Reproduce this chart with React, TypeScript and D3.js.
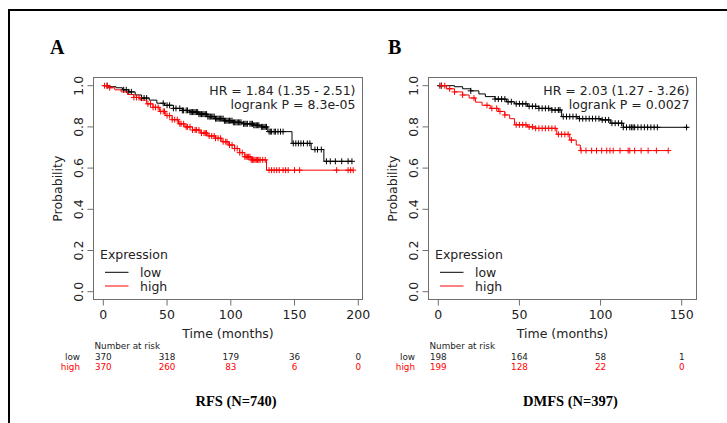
import React from "react";
import * as d3 from "d3";

// ---------- data ----------
const yTicks = [0, 0.2, 0.4, 0.6, 0.8, 1.0];
const rfsXTicks = [0, 50, 100, 150, 200];
const dmfsXTicks = [0, 50, 100, 150];

// Kaplan-Meier steps: [time (months), survival after that time]
const rfsLowSteps: [number, number][] = [
  [0, 1], [5, 0.995], [10, 0.99], [15, 0.98], [20, 0.97], [25, 0.955], [30, 0.94], [36, 0.93],
  [42, 0.915], [48, 0.905], [55, 0.89], [62, 0.88], [68, 0.872], [75, 0.862], [82, 0.85],
  [88, 0.84], [95, 0.83], [102, 0.822], [110, 0.815], [118, 0.808], [124, 0.8], [129, 0.777],
  [148, 0.72], [163, 0.69], [173, 0.633],
];
const rfsLowEnd = 195;
const rfsLowCensor = [3, 16, 18, 20, 22, 30, 32, 34, 47, 50, 52, 55, 57, 60, 62, 63, 65, 66, 68, 69, 70, 71,
  72, 73, 74, 75, 76, 77, 78, 79, 80, 81, 82, 83, 84, 85, 86, 87, 88, 89, 90, 91, 92, 93, 94, 95, 96, 97, 98,
  99, 100, 101, 102, 103, 104, 105, 106, 107, 108, 110, 111, 112, 113, 115, 116, 117, 118, 119, 120, 121, 122,
  124, 125, 126, 127, 128, 130, 131, 132, 134, 135, 137, 139, 141, 149, 151, 153, 155, 157, 160, 162, 166, 168,
  171, 175, 178, 182, 187, 192, 195];

const rfsHighSteps: [number, number][] = [
  [0, 1], [4, 0.99], [9, 0.98], [14, 0.97], [19, 0.957], [24, 0.943], [29, 0.93], [34, 0.912],
  [39, 0.895], [44, 0.875], [49, 0.855], [54, 0.835], [59, 0.815], [64, 0.8], [70, 0.785],
  [76, 0.77], [82, 0.756], [88, 0.745], [93, 0.728], [98, 0.712], [103, 0.695], [107, 0.675],
  [111, 0.655], [116, 0.64], [128, 0.59],
];
const rfsHighEnd = 196;
const rfsHighCensor = [1, 3, 5, 24, 26, 28, 35, 37, 39, 41, 43, 45, 47, 48, 50, 52, 54, 56, 58, 60, 61, 63,
  65, 66, 68, 70, 72, 73, 75, 77, 79, 80, 81, 83, 85, 87, 88, 90, 92, 94, 96, 97, 99, 101, 103, 105, 107, 109,
  111, 112, 113, 114, 115, 116, 117, 118, 119, 120, 121, 122, 123, 125, 127, 130, 132, 134, 136, 138, 141, 143,
  145, 150, 154, 183, 192, 194, 196];

const dmfsLowSteps: [number, number][] = [
  [0, 1], [10, 0.995], [15, 0.985], [20, 0.975], [25, 0.96], [29, 0.947], [35, 0.935], [42, 0.922],
  [47, 0.912], [55, 0.9], [62, 0.89], [70, 0.882], [76, 0.85], [86, 0.84], [100, 0.834],
  [106, 0.818], [114, 0.798],
];
const dmfsLowEnd = 154;
const dmfsLowCensor = [1, 2, 20, 35, 37, 39, 41, 43, 45, 48, 50, 52, 54, 56, 58, 60, 62, 64, 66, 68, 70, 72,
  74, 75, 77, 79, 81, 83, 85, 87, 89, 91, 93, 95, 97, 99, 101, 103, 105, 107, 109, 111, 113, 114, 116, 118,
  119, 120, 121, 123, 125, 127, 129, 131, 133, 135, 153];

const dmfsHighSteps: [number, number][] = [
  [0, 1], [5, 0.985], [10, 0.97], [15, 0.955], [19, 0.94], [23, 0.92], [27, 0.905], [32, 0.89],
  [37, 0.875], [41, 0.858], [44, 0.84], [47, 0.81], [55, 0.8], [60, 0.793], [73, 0.764],
  [81, 0.736], [85, 0.712], [87.5, 0.685],
];
const dmfsHighEnd = 142;
const dmfsHighCensor = [2, 4, 7, 10, 15, 22, 30, 33, 36, 38, 41, 48, 50, 52, 54, 56, 58, 60, 62, 64, 66, 68,
  70, 72, 74, 76, 78, 80, 82, 88, 91, 94.5, 97.5, 100.7, 103.8, 105.8, 107.8, 112, 117, 118, 121, 125, 129.3,
  134.4, 141.7];

const rfsRiskLow = [370, 318, 179, 36, 0];
const rfsRiskHigh = [370, 260, 83, 6, 0];
const dmfsRiskLow = [198, 164, 58, 1];
const dmfsRiskHigh = [199, 128, 22, 0];

const rfsStats = ["HR = 1.84 (1.35 - 2.51)", "logrank P = 8.3e-05"];
const dmfsStats = ["HR = 2.03 (1.27 - 3.26)", "logrank P = 0.0027"];

// ---------- drawing ----------
const FONT = "'DejaVu Sans', Verdana, sans-serif";
const SERIF = "'Liberation Serif', 'Times New Roman', serif";
const RED = "#ff0000";

type Steps = [number, number][];

interface PanelProps {
  letter: string;
  letterX: number;
  caption: string;
  xTicks: number[];
  xMax: number;
  xRange: [number, number];
  boxX: [number, number];
  lowSteps: Steps; lowEnd: number; lowCensor: number[];
  highSteps: Steps; highEnd: number; highCensor: number[];
  riskLow: number[]; riskHigh: number[];
  stats: string[];
}

const yScale = d3.scaleLinear().domain([0, 1]).range([291.7, 85.7]);
const boxY: [number, number] = [77.5, 299.5];

function survAt(steps: Steps, t: number) {
  const i = d3.bisector((d: [number, number]) => d[0]).right(steps, t) - 1;
  return steps[Math.max(0, i)][1];
}

function Curve({ steps, end, censor, color, x }: { steps: Steps; end: number; censor: number[]; color: string; x: d3.ScaleLinear<number, number> }) {
  const pts: [number, number][] = [...steps, [end, steps[steps.length - 1][1]]];
  const line = d3.line<[number, number]>().x(d => x(d[0])).y(d => yScale(d[1])).curve(d3.curveStepAfter);
  const s = 3;
  return (
    <g>
      <path d={line(pts) || ""} fill="none" stroke={color} strokeWidth={1} />
      {censor.map((t, i) => {
        const cx = x(t), cy = yScale(survAt(steps, t));
        return <path key={i} d={`M${cx - s},${cy}H${cx + s}M${cx},${cy - s}V${cy + s}`} stroke={color} strokeWidth={1} />;
      })}
    </g>
  );
}

function Panel(p: PanelProps) {
  const x = d3.scaleLinear().domain([0, p.xMax]).range(p.xRange);
  const [bl, br] = p.boxX;
  const cx = (bl + br) / 2;
  return (
    <g>
      <text x={p.letterX} y={54} fontFamily={SERIF} fontWeight="bold" fontSize={20}>{p.letter}</text>
      <rect x={bl} y={boxY[0]} width={br - bl} height={boxY[1] - boxY[0]} fill="none" stroke="#6e6e6e" strokeWidth={1} />
      {yTicks.map(t => (
        <g key={t}>
          <line x1={bl - 6} x2={bl} y1={yScale(t)} y2={yScale(t)} stroke="#6e6e6e" />
          <text transform={`translate(${bl - 10.5},${yScale(t)}) rotate(-90)`} textAnchor="middle" fontFamily={FONT} fontSize={12.5} fill="#222">{t.toFixed(1)}</text>
        </g>
      ))}
      <text transform={`translate(${bl - 32},${yScale(0.5)}) rotate(-90)`} textAnchor="middle" fontFamily={FONT} fontSize={12.5} fill="#222">Probability</text>
      {p.xTicks.map(t => (
        <g key={t}>
          <line x1={x(t)} x2={x(t)} y1={boxY[1]} y2={boxY[1] + 6} stroke="#6e6e6e" />
          <text x={x(t)} y={318.5} textAnchor="middle" fontFamily={FONT} fontSize={12.5} fill="#222">{t}</text>
        </g>
      ))}
      <text x={cx} y={338} textAnchor="middle" fontFamily={FONT} fontSize={12.5} fill="#222">Time (months)</text>

      <Curve steps={p.lowSteps} end={p.lowEnd} censor={p.lowCensor} color="#000" x={x} />
      <Curve steps={p.highSteps} end={p.highEnd} censor={p.highCensor} color={RED} x={x} />

      <text x={br - 7} y={95} textAnchor="end" fontFamily={FONT} fontSize={12.5} fill="#222">{p.stats[0]}</text>
      <text x={br - 7} y={109} textAnchor="end" fontFamily={FONT} fontSize={12.5} fill="#222">{p.stats[1]}</text>

      <text x={bl + 6.5} y={258.5} fontFamily={FONT} fontSize={12.5} fill="#222">Expression</text>
      <line x1={bl + 11.5} x2={bl + 35} y1={272.3} y2={272.3} stroke="#000" />
      <text x={bl + 46.5} y={276.5} fontFamily={FONT} fontSize={12.5} fill="#222">low</text>
      <line x1={bl + 11.5} x2={bl + 35} y1={286} y2={286} stroke={RED} />
      <text x={bl + 46.5} y={290.5} fontFamily={FONT} fontSize={12.5} fill="#222">high</text>

      <text x={bl + 1} y={349} fontFamily={FONT} fontSize={8.8} fill="#222">Number at risk</text>
      <text x={bl - 13.5} y={359.5} textAnchor="end" fontFamily={FONT} fontSize={8.8} fill="#222">low</text>
      <text x={bl - 13.5} y={369.5} textAnchor="end" fontFamily={FONT} fontSize={8.8} fill={RED}>high</text>
      {p.riskLow.map((v, i) => (
        <text key={"l" + i} x={x(p.xTicks[i])} y={359.5} textAnchor="middle" fontFamily={FONT} fontSize={8.8} fill="#222">{v}</text>
      ))}
      {p.riskHigh.map((v, i) => (
        <text key={"h" + i} x={x(p.xTicks[i])} y={369.5} textAnchor="middle" fontFamily={FONT} fontSize={8.8} fill={RED}>{v}</text>
      ))}
      <text x={cx + 8} y={406} textAnchor="middle" fontFamily={SERIF} fontWeight="bold" fontSize={14.5}>{p.caption}</text>
    </g>
  );
}

export default function App() {
  return (
    <svg width={727} height={423} style={{ position: "fixed", left: 0, top: 0, background: "#fff" }}>
      <rect x={0} y={0} width={727} height={423} fill="#fff" />
      <rect x={9} y={10} width={800} height={600} fill="none" stroke="#000" strokeWidth={2} />
      <Panel letter="A" letterX={50} caption="RFS (N=740)" xTicks={rfsXTicks} xMax={200} xRange={[103.3, 358.3]} boxX={[93.5, 362.5]}
        lowSteps={rfsLowSteps} lowEnd={rfsLowEnd} lowCensor={rfsLowCensor}
        highSteps={rfsHighSteps} highEnd={rfsHighEnd} highCensor={rfsHighCensor}
        riskLow={rfsRiskLow} riskHigh={rfsRiskHigh} stats={rfsStats} />
      <Panel letter="B" letterX={388} caption="DMFS (N=397)" xTicks={dmfsXTicks} xMax={150} xRange={[438.3, 681.7]} boxX={[428.5, 696.5]}
        lowSteps={dmfsLowSteps} lowEnd={dmfsLowEnd} lowCensor={dmfsLowCensor}
        highSteps={dmfsHighSteps} highEnd={dmfsHighEnd} highCensor={dmfsHighCensor}
        riskLow={dmfsRiskLow} riskHigh={dmfsRiskHigh} stats={dmfsStats} />
    </svg>
  );
}
